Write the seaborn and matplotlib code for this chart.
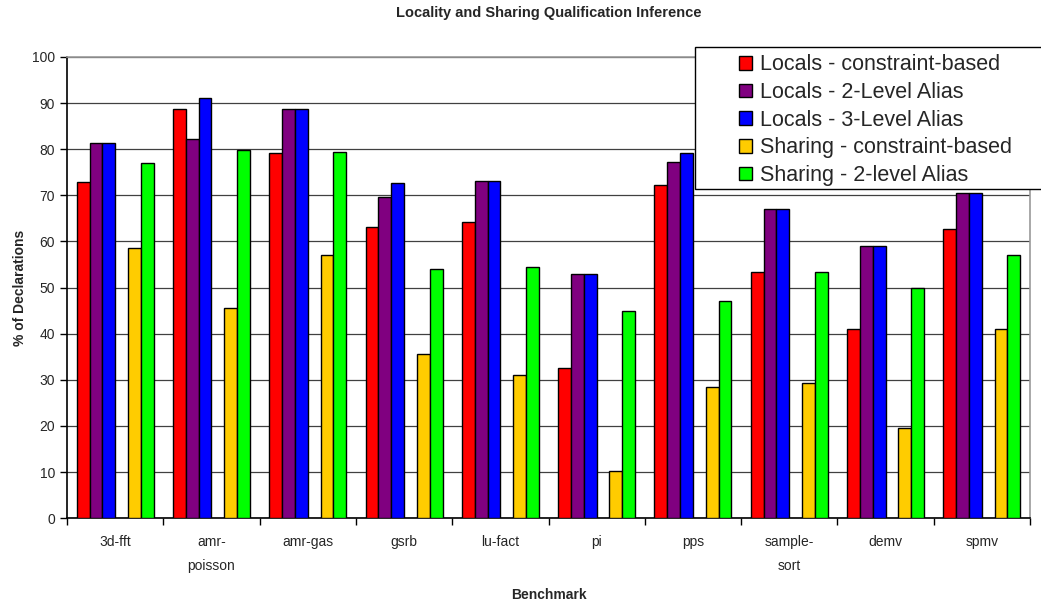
import numpy as np
import pandas as pd
import seaborn as sns
import matplotlib.pyplot as plt
from matplotlib.patches import Rectangle, Patch

benchmarks = ["3d-fft", "amr-\npoisson", "amr-gas", "gsrb", "lu-fact", "pi", "pps", "sample-\nsort", "demv", "spmv"]
series = [
    "Locals - constraint-based",
    "Locals - 2-Level Alias",
    "Locals - 3-Level Alias",
    "Sharing - constraint-based",
    "Sharing - 2-level Alias",
]
colors = ["#FF0000", "#800080", "#0000FF", "#FFCC00", "#00FF00"]

locals_cb = [72.8, 88.8, 79.2, 63.2, 64.2, 32.5, 72.2, 53.3, 41.0, 62.7]
locals_2l = [81.3, 82.2, 88.8, 69.6, 73.2, 53.0, 77.3, 67.0, 59.0, 70.5]
locals_3l = [81.3, 91.2, 88.8, 72.6, 73.2, 53.0, 79.2, 67.0, 59.0, 70.5]
sharing_cb = [58.5, 45.5, 57.0, 35.5, 31.0, 10.3, 28.5, 29.2, 19.6, 41.0]
sharing_2l = [77.0, 79.8, 79.5, 54.0, 54.5, 45.0, 47.0, 53.3, 50.0, 57.0]

# an empty slot sits between the locals and sharing bars
gap = " "
values = [locals_cb, locals_2l, locals_3l, None, sharing_cb, sharing_2l]
hue_order = series[:3] + [gap] + series[3:]

rows = []
for name, vals in zip(hue_order, values):
    for b, v in zip(benchmarks, vals if vals is not None else [np.nan] * len(benchmarks)):
        rows.append({"Benchmark": b, "series": name, "pct": v})
df = pd.DataFrame(rows)

sns.set_style("white")
plt.rcParams["font.family"] = ["Liberation Sans", "DejaVu Sans"]

fig = plt.figure(figsize=(10.41, 6.06), dpi=100)
ax = fig.add_axes([0.0644, 0.145, 0.925, 0.761])

palette = dict(zip(series, colors))
palette[gap] = "#FFFFFF"
sns.barplot(
    data=df, x="Benchmark", y="pct", hue="series", hue_order=hue_order,
    palette=palette, width=0.8, edgecolor="black", linewidth=1.0,
    saturation=1, legend=False, ax=ax, zorder=3,
)

ax.set_ylim(0, 100)
ax.set_xlim(-0.5, len(benchmarks) - 0.5)
ax.set_yticks(np.arange(0, 101, 10))
ax.tick_params(axis="y", labelsize=10, direction="out", length=5, width=1, color="black", left=True)
ax.yaxis.grid(True, color="#404040", linewidth=0.9, zorder=0)
ax.set_axisbelow(True)

ax.set_xticks(np.arange(-0.5, len(benchmarks) + 0.5, 1))
ax.set_xticklabels([])
ax.set_xticks(np.arange(len(benchmarks)), minor=True)
ax.set_xticklabels(benchmarks, minor=True, fontsize=10, linespacing=1.9)
ax.tick_params(axis="x", which="major", direction="out", length=5, width=1, color="black", bottom=True)
ax.tick_params(axis="x", which="minor", length=0, pad=12)

for side in ["left", "bottom"]:
    ax.spines[side].set_color("black")
    ax.spines[side].set_linewidth(1.2)
for side in ["top", "right"]:
    ax.spines[side].set_color("#999999")
    ax.spines[side].set_linewidth(1.2)

ax.set_title("Locality and Sharing Qualification Inference", fontsize=10.5, fontweight="bold", pad=29)
ax.set_ylabel("% of Declarations", fontsize=10, fontweight="bold", labelpad=4)
ax.xaxis.set_label_coords(0.5, -0.152)
ax.set_xlabel("Benchmark", fontsize=10, fontweight="bold")

# legend box drawn by hand so the left padding can be wide
box = Rectangle((0.652, 0.714), 0.385, 0.307, transform=ax.transAxes, facecolor="white",
                edgecolor="black", linewidth=1.0, clip_on=False, zorder=5)
ax.add_patch(box)
handles = [Patch(facecolor=c, edgecolor="black", linewidth=1.0) for c in colors]
leg = ax.legend(handles, series, loc="upper left", bbox_to_anchor=(0.689, 1.0245), frameon=False,
                fontsize=15.5, handlelength=0.6, handleheight=0.6, handletextpad=0.35,
                labelspacing=0.31, borderaxespad=0)
leg.set_zorder(6)

fig.savefig("out.png", dpi=100)
